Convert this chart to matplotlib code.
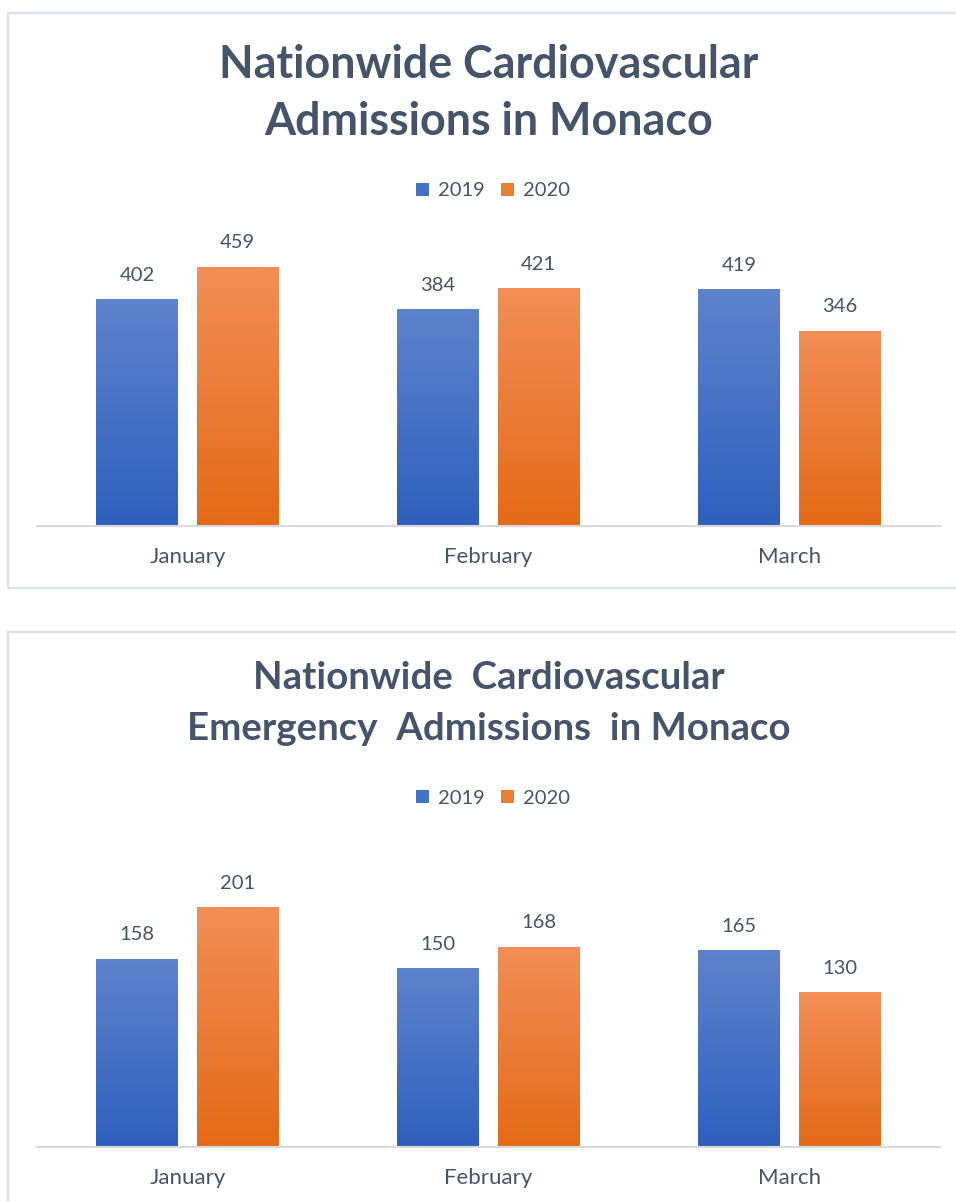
import numpy as np
import matplotlib
matplotlib.use("Agg")
import matplotlib.pyplot as plt
from matplotlib.colors import LinearSegmentedColormap
from matplotlib.patches import Rectangle

months = ["January", "February", "March"]
years = ["2019", "2020"]
admissions_2019 = [402, 384, 419]
admissions_2020 = [459, 421, 346]
emergency_2019 = [158, 150, 165]
emergency_2020 = [201, 168, 130]

W, H = 956, 1201
text_color = "#44546A"
blue_cmap = LinearSegmentedColormap.from_list("b", ["#2E60BC", "#5E83CD"])
orange_cmap = LinearSegmentedColormap.from_list("o", ["#E36A17", "#F28E57"])

plt.rcParams["font.family"] = ["Lato", "DejaVu Sans"]

fig = plt.figure(figsize=(W / 100, H / 100), dpi=100)
fig.patch.set_facecolor("white")


def fx(px):
    return px / W


def fy(py):
    return 1 - py / H


def panel_box(top, bottom):
    fig.patches.append(Rectangle((fx(8), fy(bottom)), fx(1000), (bottom - top) / H,
                                 transform=fig.transFigure, facecolor="none",
                                 edgecolor="#DCE1E7", linewidth=1.6, zorder=0))


def gradient_bars(ax, bars, cmap):
    grad = np.linspace(0, 1, 256).reshape(-1, 1)
    for b in bars:
        x0, y0 = b.get_x(), b.get_y()
        img = ax.imshow(grad, extent=[x0, x0 + b.get_width(), y0, y0 + b.get_height()],
                        origin="lower", aspect="auto", cmap=cmap, zorder=2)
        img.set_clip_path(b)
        b.set_alpha(0)


def draw_chart(base_y, top_y, ymax, v19, v20, title_lines, title_ys, title_size, legend_y):
    ax = fig.add_axes([fx(37), fy(base_y), fx(940) - fx(37), (base_y - top_y) / H])
    x = np.arange(len(months))
    w = 0.272
    b19 = ax.bar(x - 0.167, v19, w, color="#4472C4", label=years[0])
    b20 = ax.bar(x + 0.167, v20, w, color="#ED7D31", label=years[1])
    for bars in (b19, b20):
        ax.bar_label(bars, padding=11, fontsize=14.5, color=text_color)
    gradient_bars(ax, b19, blue_cmap)
    gradient_bars(ax, b20, orange_cmap)
    ax.set_xlim(-0.5, 2.5)
    ax.set_ylim(0, ymax)
    ax.set_xticks(x)
    ax.set_xticklabels(months, fontsize=16, color=text_color)
    ax.tick_params(axis="x", length=0, pad=15)
    ax.set_yticks([])
    for s in ["top", "left", "right"]:
        ax.spines[s].set_visible(False)
    ax.spines["bottom"].set_color("#D9D9D9")
    ax.spines["bottom"].set_linewidth(1.5)

    for line, ty in zip(title_lines, title_ys):
        fig.text(fx(489), fy(ty), line, ha="center", va="center", fontsize=title_size,
                 fontweight="bold", color=text_color)

    h19 = Rectangle((0, 0), 1, 1, facecolor="#4472C4")
    h20 = Rectangle((0, 0), 1, 1, facecolor="#ED7D31")
    fig.legend([h19, h20], years, loc="center", bbox_to_anchor=(fx(493), fy(legend_y)),
               ncol=2, frameon=False, fontsize=14.5, handlelength=0.6, handleheight=0.6,
               handletextpad=0.45, columnspacing=0.85, labelcolor=text_color)
    return ax


panel_box(13, 588)
panel_box(632, 1240)

draw_chart(526, 230, 524, admissions_2019, admissions_2020,
           ["Nationwide Cardiovascular", "Admissions in Monaco"], [65, 122], 32.3, 191)
draw_chart(1147, 840, 257.5, emergency_2019, emergency_2020,
           ["Nationwide  Cardiovascular", "Emergency  Admissions  in Monaco"], [678, 729], 27.6, 798)

fig.savefig("out.png", dpi=100, facecolor="white")
